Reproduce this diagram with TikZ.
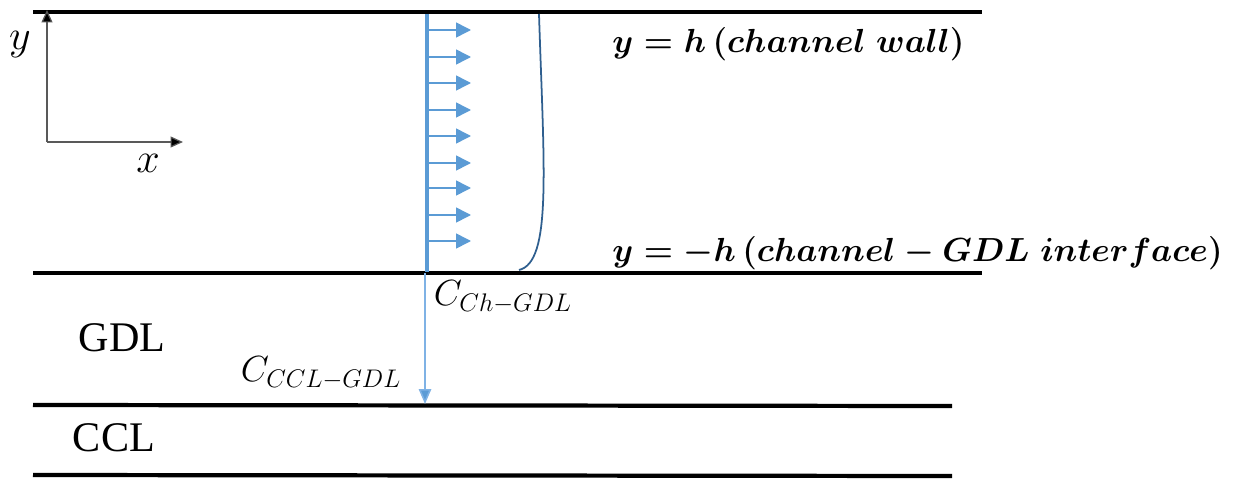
\RequirePackage{fix-cm}
\documentclass[tikz,border=0pt]{standalone}
\usepackage{amsmath}
\usepackage{fontspec}
\setmainfont{Liberation Serif}
\usetikzlibrary{arrows.meta}
\definecolor{vblue}{HTML}{5B9BD5}
\definecolor{cblue}{HTML}{2F5F8F}
\definecolor{lblue}{HTML}{7FB2E5}
\tikzset{
  wall/.style={line width=2.4pt, black},
  velarrow/.style={vblue, line width=0.9pt, -{Triangle[length=0.3cm,width=0.3cm]}},
  axisline/.style={gray!70!black, line width=0.7pt, -{Triangle[length=0.25cm,width=0.22cm,fill=black]}},
  layerlabel/.style={font=\fontsize{24}{28}\selectfont, inner sep=0pt},
  eqlabel/.style={font=\fontsize{19}{23}\selectfont\boldmath, anchor=west, inner sep=0pt},
  clabel/.style={font=\fontsize{20.7}{24}\selectfont, inner sep=0pt}
}
\begin{document}
\begin{tikzpicture}[x=0.02cm, y=-0.02cm]
\useasboundingbox (0,0) rectangle (1234,480);
% walls
\coordinate (w1a) at (33,12); \coordinate (w1b) at (982,12);
\coordinate (w2a) at (33,273); \coordinate (w2b) at (982,273);
\coordinate (w3a) at (33,405); \coordinate (w3b) at (952,406);
\coordinate (w4a) at (33,475); \coordinate (w4b) at (952,476);
\draw[wall] (w1a) -- (w1b);
\draw[wall] (w2a) -- (w2b);
\draw[wall] (w3a) -- (w3b);
\draw[wall] (w4a) -- (w4b);
% axes
\coordinate (o) at (47,142);
\coordinate (ytip) at (47,10);
\coordinate (xtip) at (183,142);
\draw[axisline] (o) -- (ytip);
\draw[axisline] (o) -- (xtip);
\node[font=\fontsize{24}{28}\selectfont, inner sep=0pt] (ylab) at (20,45) {$y$};
\node[font=\fontsize{24}{28}\selectfont, inner sep=0pt] (xlab) at (148,163) {$x$};
% velocity profile
\coordinate (vtop) at (427,14);
\coordinate (vbot) at (427,272);
\draw[vblue, line width=2.8pt] (vtop) -- (vbot);
\foreach \yy in {30,57,83,110,136,163,188,215,241}{
  \coordinate (s\yy) at (428,\yy);
  \coordinate (e\yy) at (471,\yy);
  \draw[velarrow] (s\yy) -- (e\yy);
}
% parabola-like curve
\coordinate (ca) at (539,14);
\coordinate (cb) at (519,270);
\draw[cblue, line width=1pt] (ca) .. controls (544,170) and (552,262) .. (cb);
% concentration arrow
\coordinate (ctop) at (425,273);
\coordinate (cbot) at (425,404);
\draw[lblue, line width=0.9pt, -{Triangle[length=0.3cm,width=0.25cm,fill=vblue]}] (ctop) -- (cbot);
% labels
\node[clabel] (cch) at (503,297) {$C_{Ch-GDL}$};
\node[clabel] (cccl) at (321,373) {$C_{CCL-GDL}$};
\node[layerlabel] (gdl) at (122,338) {GDL};
\node[layerlabel] (ccl) at (114,438) {CCL};
\node[eqlabel] (eq1) at (612,44) {$y=h\,(channel\;wall)$};
\node[eqlabel] (eq2) at (612,253) {$y=-h\,(channel-GDL\;interface)$};
\end{tikzpicture}
\end{document}
